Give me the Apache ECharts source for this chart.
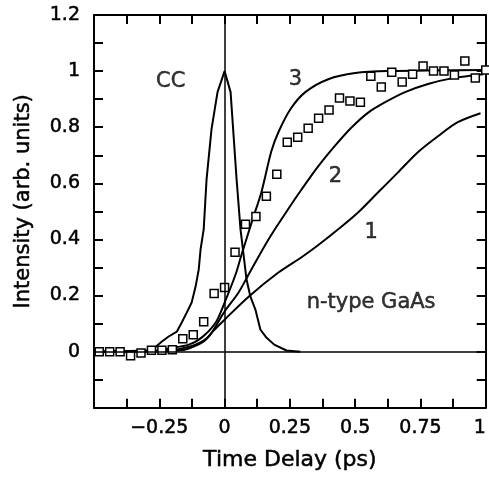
<!DOCTYPE html>
<html>
<head>
<meta charset="utf-8">
<script src="https://cdn.jsdelivr.net/npm/echarts@6/dist/echarts.min.js"></script>
<style>
  html, body { margin: 0; padding: 0; background: #fff; }
  #chart { width: 489px; height: 477px; }
</style>
</head>
<body>
<div id="chart"></div>
<script>
// measured points (squares)
const delayTimes = [-0.48, -0.44, -0.40, -0.36, -0.32, -0.28, -0.24, -0.20, -0.16, -0.12,
  -0.08, -0.04, 0, 0.04, 0.08, 0.12, 0.16, 0.20, 0.24, 0.28,
  0.32, 0.36, 0.40, 0.44, 0.48, 0.52, 0.56, 0.60, 0.64, 0.68,
  0.72, 0.76, 0.80, 0.84, 0.88, 0.92, 0.96, 1.00];
const measured = [0, 0, 0, -0.015, -0.005, 0.005, 0.005, 0.007, 0.046, 0.06,
  0.107, 0.207, 0.229, 0.354, 0.454, 0.482, 0.554, 0.632, 0.746, 0.764,
  0.796, 0.832, 0.861, 0.904, 0.893, 0.889, 0.982, 0.943, 0.996, 0.961,
  0.989, 1.018, 1.0, 1.0, 0.986, 1.036, 0.975, 1.004];

// cross-correlation trace
const ccCurve = [[-0.5, 0], [-0.28, 0.004], [-0.24, 0.036], [-0.214, 0.054], [-0.183, 0.071],
  [-0.164, 0.104], [-0.145, 0.139], [-0.126, 0.175], [-0.111, 0.232], [-0.099, 0.293],
  [-0.092, 0.364], [-0.08, 0.436], [-0.069, 0.614], [-0.05, 0.793], [-0.027, 0.925],
  [0, 1], [0.023, 0.925], [0.046, 0.614], [0.061, 0.436], [0.076, 0.32],
  [0.084, 0.257], [0.099, 0.196], [0.118, 0.15], [0.137, 0.079], [0.16, 0.05],
  [0.19, 0.025], [0.237, 0.004], [0.29, 0]];

// model curves 1, 2, 3
const curve3 = [[-0.5, 0], [-0.252, 0.004], [-0.214, 0.011], [-0.137, 0.025], [-0.088, 0.05],
  [-0.034, 0.104], [0, 0.175], [0.042, 0.275], [0.065, 0.346], [0.111, 0.482],
  [0.141, 0.568], [0.179, 0.714], [0.206, 0.782], [0.252, 0.864], [0.309, 0.925],
  [0.397, 0.971], [0.5, 0.993], [0.626, 1.0], [1.0, 1.004]];
const curve2 = [[-0.5, 0], [-0.233, 0.004], [-0.187, 0.007], [-0.111, 0.025], [-0.061, 0.054],
  [0, 0.143], [0.053, 0.21], [0.092, 0.275], [0.168, 0.4], [0.252, 0.52],
  [0.294, 0.577], [0.359, 0.661], [0.424, 0.735], [0.485, 0.798], [0.55, 0.852],
  [0.615, 0.889], [0.691, 0.925], [0.779, 0.954], [0.874, 0.975], [0.99, 0.989]];
const curve1 = [[-0.5, 0], [-0.176, 0.004], [-0.137, 0.011], [-0.08, 0.036], [-0.042, 0.075],
  [0, 0.114], [0.092, 0.196], [0.206, 0.282], [0.3, 0.34], [0.359, 0.38], [0.435, 0.436],
  [0.511, 0.496], [0.588, 0.568], [0.664, 0.639], [0.74, 0.711], [0.817, 0.768],
  [0.893, 0.818], [0.98, 0.85]];

// annotations
const noteText = ["CC", "3", "2", "1", "n-type GaAs"];
const noteX = [-0.206, 0.271, 0.424, 0.561, 0.561];
const noteY = [0.964, 0.971, 0.625, 0.425, 0.175];

const font = "DejaVu Sans";
const ink = "#000";
const heavy = { textBorderColor: ink, textBorderWidth: 0.5 };

const chart = echarts.init(document.getElementById("chart"));

const lineStyleBase = { color: ink, width: 2 };

const tickOnly = (extra) => Object.assign({
  axisLine: { show: true, onZero: false, lineStyle: { color: ink, width: 2 } },
  axisTick: { show: true, inside: true, length: 9, lineStyle: { color: ink, width: 2 } },
  axisLabel: { show: false },
  splitLine: { show: false },
}, extra);

const option = {
  animation: false,
  backgroundColor: "#fff",
  grid: { left: 94, right: 1, top: 15, bottom: 67 },
  xAxis: [
    tickOnly({
      type: "value",
      min: -0.5,
      max: 1,
      interval: 0.125,
      position: "bottom",
      name: "Time Delay (ps)",
      nameLocation: "middle",
      nameGap: 42,
      nameTextStyle: Object.assign({ fontFamily: font, fontSize: 22, color: ink }, heavy),
      axisLabel: Object.assign({
        show: true,
        margin: 11,
        fontFamily: font,
        fontSize: 19,
        color: ink,
        alignMaxLabel: "right",
        formatter: (v) => {
          const k = Math.round(v * 8);
          if (k % 2 !== 0 || k === -4) return "";
          return String(+v.toFixed(2)).replace("-", "\u2212");
        },
      }, heavy),
    }),
    tickOnly({
      type: "value",
      min: -0.5,
      max: 1,
      interval: 0.125,
      position: "top",
    }),
  ],
  yAxis: [
    tickOnly({
      type: "value",
      min: -0.2,
      max: 1.2,
      interval: 0.1,
      position: "left",
      name: "Intensity (arb. units)",
      nameLocation: "middle",
      nameGap: 60,
      nameTextStyle: Object.assign({ fontFamily: font, fontSize: 21, color: ink, padding: [0, 0, 0, 20] }, heavy),
      axisLabel: Object.assign({
        show: true,
        margin: 14,
        fontFamily: font,
        fontSize: 19,
        color: ink,
        formatter: (v) => {
          const k = Math.round(v * 10);
          if (k < 0 || k % 2 !== 0) return "";
          return String(+v.toFixed(1));
        },
      }, heavy),
    }),
    tickOnly({
      type: "value",
      min: -0.2,
      max: 1.2,
      interval: 0.1,
      position: "right",
    }),
  ],
  series: [
    {
      name: "CC",
      type: "line",
      data: ccCurve,
      showSymbol: false,
      lineStyle: lineStyleBase,
      z: 3,
      markLine: {
        silent: true,
        symbol: "none",
        label: { show: false },
        lineStyle: { color: ink, width: 1.5, type: "solid" },
        data: [{ xAxis: 0 }, { yAxis: 0 }],
      },
    },
    { name: "3", type: "line", data: curve3, smooth: 0.3, showSymbol: false, lineStyle: lineStyleBase, z: 3 },
    { name: "2", type: "line", data: curve2, smooth: 0.3, showSymbol: false, lineStyle: lineStyleBase, z: 3 },
    { name: "1", type: "line", data: curve1, smooth: 0.3, showSymbol: false, lineStyle: lineStyleBase, z: 3 },
    {
      name: "data",
      type: "scatter",
      symbol: "rect",
      symbolSize: 8,
      data: delayTimes.map((t, i) => [t, measured[i]]),
      itemStyle: { color: "#fff", borderColor: ink, borderWidth: 1.5, opacity: 1 },
      z: 4,
    },
    {
      name: "notes",
      type: "scatter",
      symbolSize: 0,
      silent: true,
      data: noteText.map((s, i) => ({ name: s, value: [noteX[i], noteY[i]] })),
      label: Object.assign({
        show: true,
        position: "inside",
        formatter: (p) => p.name,
        fontFamily: font,
        fontSize: 21,
        color: ink,
      }, heavy),
      z: 5,
    },
  ],
};

chart.setOption(option);
</script>
</body>
</html>
